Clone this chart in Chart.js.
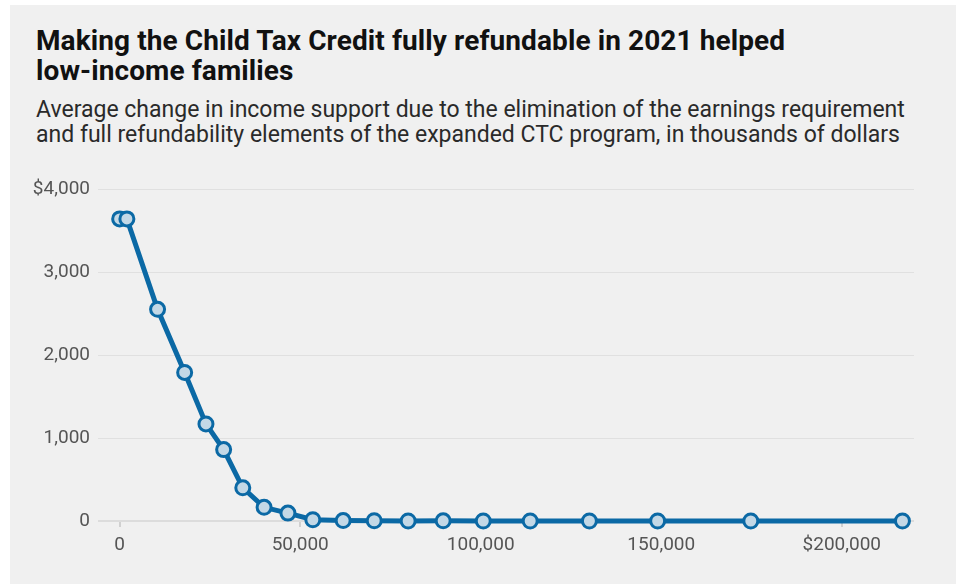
<!DOCTYPE html>
<html>
<head>
<meta charset="utf-8">
<script src="https://cdn.jsdelivr.net/npm/chart.js@4"></script>
<style>
    html, body { margin: 0; padding: 0; background: #fff; }
    body { width: 956px; height: 584px; position: relative; overflow: hidden; }
    .panel { position: absolute; left: 10px; top: 5px; right: 0; bottom: 0; background: #f0f0f0; }
    h1 { position: absolute; left: 26px; top: 21px; margin: 0; font-family: Roboto, sans-serif; font-weight: 700;
         font-size: 28px; line-height: 30px; color: #111; letter-spacing: 0.1px; }
    .sub { position: absolute; left: 26px; top: 92px; margin: 0; font-family: Roboto, sans-serif; font-weight: 400;
           font-size: 23px; line-height: 25px; color: #2a2a2a; }
    .wrap { position: absolute; left: 0; top: 155px; width: 946px; height: 424px; }
</style>
</head>
<body>
<div class="panel">
    <h1>Making the Child Tax Credit fully refundable in 2021 helped<br>low-income families</h1>
    <p class="sub">Average change in income support due to the elimination of the earnings requirement<br>and full refundability elements of the expanded CTC program, in thousands of dollars</p>
    <div class="wrap"><canvas id="chart" width="946" height="424"></canvas></div>
</div>
<script>
    // Données
    const incomes = [0, 2000, 10500, 18000, 23900, 28800, 34100, 40000, 46600, 53500, 61900, 70500,
                     79900, 89600, 100700, 113700, 130100, 149000, 174800, 216800];
    const support = [3640, 3640, 2550, 1790, 1170, 860, 400, 165, 95, 15, 5, 3,
                     0, 2, 0, 0, 0, 0, 0, 0];
    const yTicks = [0, 1000, 2000, 3000, 4000];
    const xTicks = [0, 50000, 100000, 150000, 200000];

    const blue = '#0b69a5';
    const fmt = (v) => v.toLocaleString('en-US');

    const ctx = document.getElementById('chart').getContext('2d');
    new Chart(ctx, {
        type: 'line',
        data: {
            datasets: [{
                data: incomes.map((x, i) => ({ x: x, y: support[i] })),
                borderColor: blue,
                borderWidth: 5,
                pointRadius: 7,
                pointBorderWidth: 3,
                pointBackgroundColor: '#c3d8e6',
                pointBorderColor: blue,
                tension: 0,
                clip: false
            }]
        },
        options: {
            responsive: false,
            animation: false,
            layout: { padding: { top: 29, right: 42, left: 0, bottom: 0 } },
            plugins: { legend: { display: false }, tooltip: { enabled: false } },
            scales: {
                x: {
                    type: 'linear',
                    min: -6000,
                    max: 220000,
                    afterFit: (s) => { s.height = 63; },
                    afterBuildTicks: (s) => { s.ticks = xTicks.map(v => ({ value: v })); },
                    grid: { drawOnChartArea: false, drawTicks: true, tickLength: 6, color: '#d0d0d0', lineWidth: 2 },
                    border: { display: false },
                    ticks: {
                        padding: 7,
                        color: '#555',
                        font: { family: 'Roboto', size: 19 },
                        maxRotation: 0,
                        callback: (v) => v === 200000 ? '$' + fmt(v) : fmt(v)
                    }
                },
                y: {
                    min: 0,
                    max: 4000,
                    afterFit: (s) => { s.width = 88; },
                    afterBuildTicks: (s) => { s.ticks = yTicks.map(v => ({ value: v })); },
                    grid: { drawTicks: false, color: (c) => c.tick && c.tick.value === 0 ? '#dcdcdc' : '#e0e0e0',
                            lineWidth: (c) => c.tick && c.tick.value === 0 ? 2 : 1 },
                    border: { display: false },
                    ticks: {
                        padding: 8,
                        color: '#555',
                        font: { family: 'Roboto', size: 19 },
                        callback: (v) => v === 4000 ? '$' + fmt(v) : fmt(v)
                    }
                }
            }
        }
    });
</script>
</body>
</html>
